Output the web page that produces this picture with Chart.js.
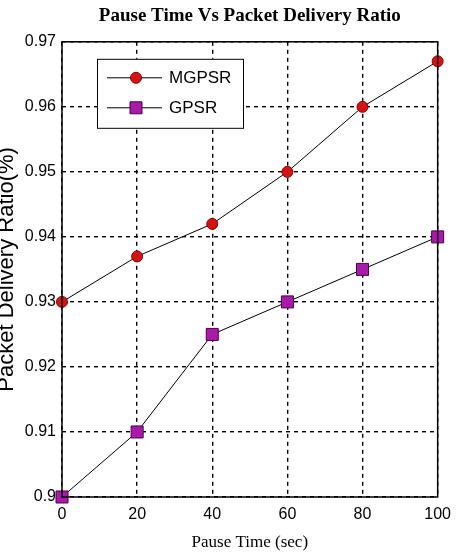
<!DOCTYPE html>
<html>
<head>
<meta charset="utf-8">
<script src="https://cdn.jsdelivr.net/npm/chart.js@4"></script>
<style>
  html, body { margin: 0; padding: 0; background: #fff; }
  canvas { display: block; }
</style>
</head>
<body>
<canvas id="chart" width="459" height="555"></canvas>
<script>
const pauseTimes = [0, 20, 40, 60, 80, 100];
const mgpsr = [0.93, 0.937, 0.942, 0.95, 0.96, 0.967];
const gpsr = [0.90, 0.91, 0.925, 0.93, 0.935, 0.94];
const seriesNames = ["MGPSR", "GPSR"];

const toPoints = (ys) => pauseTimes.map((x, i) => ({ x: x, y: ys[i] }));

// white background, black frame, and the in-plot legend box
const framePlugin = {
    id: "frame",
    beforeDraw(chart) {
        const ctx = chart.ctx;
        ctx.save();
        ctx.fillStyle = "#fff";
        ctx.fillRect(0, 0, chart.width, chart.height);
        ctx.restore();
    },
    afterDatasetsDraw(chart) {
        const ctx = chart.ctx;
        const a = chart.chartArea;
        ctx.save();
        ctx.strokeStyle = "#000";
        ctx.lineWidth = 1.5;
        ctx.setLineDash([]);
        ctx.strokeRect(a.left, a.top, a.right - a.left, a.bottom - a.top);

        const bx = a.left + 35, by = a.top + 17, bw = 146, bh = 69;
        ctx.fillStyle = "#fff";
        ctx.fillRect(bx, by, bw, bh);
        ctx.lineWidth = 1;
        ctx.strokeRect(bx + 0.5, by + 0.5, bw, bh);

        chart.data.datasets.forEach((ds, i) => {
            const y = by + 19 + i * 30;
            ctx.strokeStyle = "#000";
            ctx.lineWidth = 1;
            ctx.beginPath();
            ctx.moveTo(bx + 10, y);
            ctx.lineTo(bx + 65, y);
            ctx.stroke();
            ctx.fillStyle = ds.pointBackgroundColor;
            ctx.strokeStyle = ds.pointBorderColor;
            ctx.beginPath();
            if (ds.pointStyle === "circle") {
                ctx.arc(bx + 39, y, ds.pointRadius, 0, Math.PI * 2);
            } else {
                const s = ds.pointRadius * Math.SQRT1_2;
                ctx.rect(bx + 39 - s, y - s, 2 * s, 2 * s);
            }
            ctx.fill();
            ctx.stroke();
            ctx.fillStyle = "#000";
            ctx.font = "17px 'Liberation Sans', Arial, sans-serif";
            ctx.textBaseline = "middle";
            ctx.textAlign = "left";
            ctx.fillText(seriesNames[i], bx + 72, y + 1);
        });
        ctx.restore();
    }
};

new Chart(document.getElementById("chart").getContext("2d"), {
    type: "line",
    data: {
        datasets: [
            {
                label: seriesNames[0],
                data: toPoints(mgpsr),
                borderColor: "#000",
                borderWidth: 1,
                pointStyle: "circle",
                pointRadius: 5.5,
                pointBackgroundColor: "#d41414",
                pointBorderColor: "#8b0000",
                pointBorderWidth: 1,
                clip: false
            },
            {
                label: seriesNames[1],
                data: toPoints(gpsr),
                borderColor: "#000",
                borderWidth: 1,
                pointStyle: "rect",
                pointRadius: 8.5,
                pointBackgroundColor: "#a81aa8",
                pointBorderColor: "#4a004a",
                pointBorderWidth: 1,
                clip: false
            }
        ]
    },
    options: {
        responsive: false,
        animation: false,
        layout: { padding: { left: 0, right: 16, top: 0, bottom: 0 } },
        plugins: {
            legend: { display: false },
            tooltip: { enabled: false },
            title: {
                display: true,
                fullSize: false,
                text: "Pause Time Vs Packet Delivery Ratio",
                color: "#000",
                font: { family: "'Liberation Serif', 'Times New Roman', serif", size: 19, weight: "bold", lineHeight: 1.2 },
                padding: { top: 5, bottom: 14 }
            }
        },
        scales: {
            x: {
                type: "linear",
                min: 0,
                max: 100,
                afterFit: (scale) => { scale.height = 58; },
                ticks: {
                    stepSize: 20,
                    color: "#000",
                    padding: 8,
                    maxRotation: 0,
                    font: { family: "'Liberation Sans', Arial, sans-serif", size: 16 }
                },
                grid: { color: "#000", lineWidth: 1.4, drawTicks: false },
                border: { display: false, dash: [4, 4] },
                title: {
                    display: true,
                    text: "Pause Time (sec)",
                    color: "#000",
                    font: { family: "'Liberation Serif', 'Times New Roman', serif", size: 17, lineHeight: 1.2 },
                    padding: { top: 0, bottom: 2 }
                }
            },
            y: {
                min: 0.9,
                max: 0.97,
                afterFit: (scale) => { scale.width = 62; },
                ticks: {
                    stepSize: 0.01,
                    color: "#000",
                    padding: 6,
                    font: { family: "'Liberation Sans', Arial, sans-serif", size: 16 },
                    callback: (v) => String(Number(v.toFixed(2)))
                },
                grid: { color: "#000", lineWidth: 1.4, drawTicks: false },
                border: { display: false, dash: [4, 4] },
                title: {
                    display: true,
                    text: "Packet Delivery Ratio(%)",
                    color: "#000",
                    font: { family: "'Liberation Sans', Arial, sans-serif", size: 22, lineHeight: 1.0 },
                    padding: { top: -4, bottom: 0 }
                }
            }
        }
    },
    plugins: [framePlugin]
});
</script>
</body>
</html>
